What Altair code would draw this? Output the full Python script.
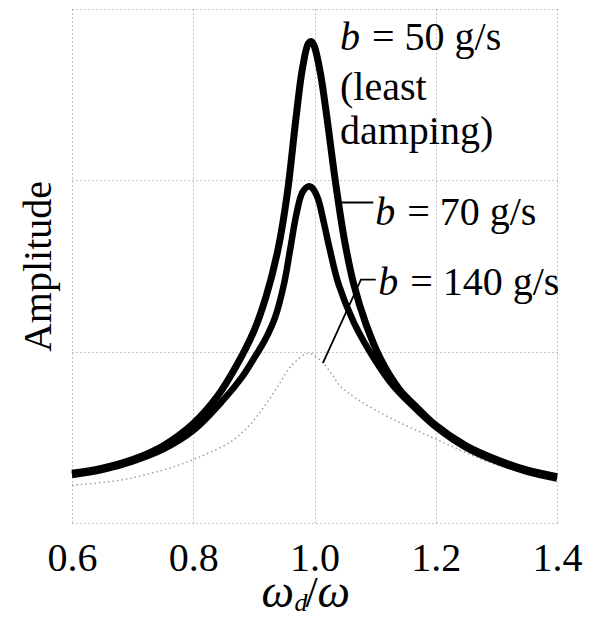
import altair as alt
import pandas as pd

FONT = "Liberation Serif"

# ---- data (x = omega_d/omega, y = amplitude in grid units) ----
x_b50 = [0.60, 0.65, 0.70, 0.75, 0.80, 0.84, 0.87, 0.90, 0.92, 0.94, 0.955, 0.97, 0.98, 0.99, 0.995,
         1.00, 1.01, 1.02, 1.035, 1.05, 1.065, 1.085, 1.11, 1.14, 1.17, 1.20, 1.25, 1.30, 1.35, 1.40]
y_b50 = [0.29, 0.32, 0.37, 0.45, 0.58, 0.74, 0.91, 1.12, 1.32, 1.60, 1.92, 2.38, 2.65, 2.80, 2.81,
         2.78, 2.62, 2.38, 1.98, 1.64, 1.39, 1.16, 0.95, 0.78, 0.67, 0.57, 0.45, 0.37, 0.31, 0.27]

x_b70 = [0.60, 0.65, 0.70, 0.75, 0.80, 0.85, 0.88, 0.90, 0.92, 0.935, 0.95, 0.96, 0.97, 0.98, 0.99,
         0.995, 1.005, 1.015, 1.025, 1.04, 1.065, 1.10, 1.13, 1.16, 1.20, 1.25, 1.30, 1.35, 1.40]
y_b70 = [0.28, 0.31, 0.36, 0.43, 0.54, 0.72, 0.85, 0.96, 1.08, 1.20, 1.40, 1.60, 1.80, 1.93, 1.965,
         1.96, 1.90, 1.76, 1.60, 1.39, 1.17, 0.95, 0.80, 0.69, 0.56, 0.44, 0.36, 0.30, 0.26]

x_b140 = [0.60, 0.68, 0.73, 0.77, 0.80, 0.82, 0.86, 0.89, 0.915, 0.94, 0.96, 0.99,
          1.015, 1.03, 1.045, 1.10, 1.20, 1.30, 1.40]
y_b140 = [0.22, 0.25, 0.29, 0.33, 0.37, 0.40, 0.47, 0.56, 0.67, 0.80, 0.91, 0.99,
          0.93, 0.86, 0.79, 0.66, 0.49, 0.34, 0.25]

x_ticks = [0.6, 0.8, 1.0, 1.2, 1.4]
y_grid = [0, 1, 2, 3]

# annotation texts and anchors (data coordinates)
ann_b_x = [1.042, 1.100, 1.105]
ann_b_y = [2.76, 1.74, 1.33]
ann_rest = ["= 50 g/s", "= 70 g/s", "= 140 g/s"]
note_x = [1.042, 1.042]
note_y = [2.47, 2.21]
note_text = ["(least", "damping)"]
lead70_x = [1.040, 1.097]
lead70_y = [1.87, 1.87]
lead140_x = [1.014, 1.0766, 1.101]
lead140_y = [0.934, 1.42, 1.42]

xscale = alt.Scale(domain=[0.6, 1.4], nice=False, zero=False)
yscale = alt.Scale(domain=[0, 3], nice=False, zero=False)

xaxis = alt.Axis(values=x_ticks, format=".1f", labelFont=FONT, labelFontSize=40,
                 labelColor="black", labelPadding=15, ticks=False, domain=False,
                 grid=True, gridColor="#555", gridDash=[1, 3], gridWidth=1, gridOpacity=0.7,
                 title=None, labelFlush=False)
yaxis = alt.Axis(values=y_grid, labels=False, ticks=False, domain=False,
                 grid=True, gridColor="#555", gridDash=[1, 3], gridWidth=1, gridOpacity=0.7,
                 title="Amplitude", titleFont=FONT, titleFontSize=40, titleFontWeight="normal",
                 titleColor="black", titlePadding=14)

X = alt.X("x:Q", scale=xscale, axis=xaxis)
Y = alt.Y("y:Q", scale=yscale, axis=yaxis)


def df(xs, ys, **extra):
    d = pd.DataFrame({"x": xs, "y": ys})
    for k, v in extra.items():
        d[k] = v
    return d


c140 = alt.Chart(df(x_b140, y_b140)).mark_line(
    color="#999", strokeWidth=1.4, strokeDash=[1.5, 3], interpolate="catmull-rom"
).encode(x=X, y=Y)

c70 = alt.Chart(df(x_b70, y_b70)).mark_line(
    color="black", strokeWidth=6.5, interpolate="catmull-rom"
).encode(x=X, y=Y)

c50 = alt.Chart(df(x_b50, y_b50)).mark_line(
    color="black", strokeWidth=7, interpolate="catmull-rom"
).encode(x=X, y=Y)

l70 = alt.Chart(df(lead70_x, lead70_y)).mark_line(color="black", strokeWidth=2).encode(x=X, y=Y)
l140 = alt.Chart(df(lead140_x, lead140_y, o=[0, 1, 2])).mark_line(color="black", strokeWidth=1.8).encode(
    x=X, y=Y, order="o:Q")

tb = alt.Chart(df(ann_b_x, ann_b_y)).mark_text(
    align="left", baseline="alphabetic", font=FONT, fontSize=40, fontStyle="italic", color="black"
).encode(x=X, y=Y, text=alt.value("b"))

trest = alt.Chart(df(ann_b_x, ann_b_y, t=ann_rest)).mark_text(
    align="left", baseline="alphabetic", font=FONT, fontSize=40, color="black", dx=32
).encode(x=X, y=Y, text="t:N")

tnote = alt.Chart(df(note_x, note_y, t=note_text)).mark_text(
    align="left", baseline="alphabetic", font=FONT, fontSize=40, color="black"
).encode(x=X, y=Y, text="t:N")

# x-axis title  omega_d / omega built from pieces
title_x = [1.0]
title_y = [-0.49]
tw1 = alt.Chart(df(title_x, title_y)).mark_text(
    align="left", baseline="alphabetic", font=FONT, fontSize=46, fontStyle="italic", color="black", dx=-53
).encode(x=X, y=Y, text=alt.value("ω"))
tsub = alt.Chart(df(title_x, title_y)).mark_text(
    align="left", baseline="alphabetic", font=FONT, fontSize=26, fontStyle="italic", color="black", dx=-20, dy=4
).encode(x=X, y=Y, text=alt.value("d"))
tslash = alt.Chart(df(title_x, title_y)).mark_text(
    align="left", baseline="alphabetic", font=FONT, fontSize=44, color="black", dx=-9
).encode(x=X, y=Y, text=alt.value("/"))
tw2 = alt.Chart(df(title_x, title_y)).mark_text(
    align="left", baseline="alphabetic", font=FONT, fontSize=46, fontStyle="italic", color="black", dx=3
).encode(x=X, y=Y, text=alt.value("ω"))

chart = alt.layer(c140, c70, c50, l70, l140, tb, trest, tnote, tw1, tsub, tslash, tw2).properties(
    width=485, height=514,
    autosize=alt.AutoSizeParams(type="none"),
    padding={"left": 64, "top": 1, "right": 28, "bottom": 95},
    background="white",
).configure_view(stroke=None)

chart.save("out.html", embed_options={"renderer": "svg", "actions": False})
